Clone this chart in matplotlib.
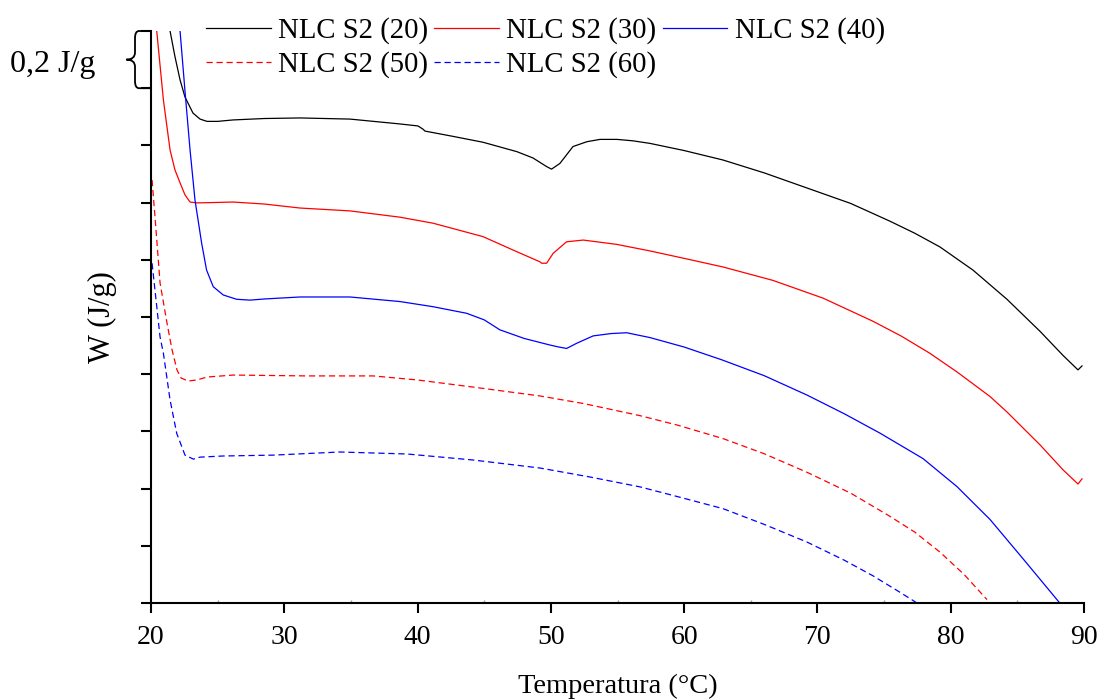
import matplotlib
matplotlib.use('Agg')
import matplotlib.pyplot as plt
from matplotlib.path import Path
from matplotlib.patches import PathPatch

plt.rcParams['font.family'] = ['Liberation Serif', 'DejaVu Serif']

# NLC S2 (20)
black_T = [21.2, 21.43, 21.8, 22.18, 22.55, 23.15, 23.68, 24.2, 25.0, 26.15, 28.5, 31.18, 34.93,
           38.68, 40.03, 40.4, 40.56, 42.5, 44.91, 47.46, 48.66, 49.68, 50.05, 50.68, 51.66, 52.71,
           53.69, 54.96, 56.16, 57.44, 60.0, 62.91, 66.0, 69.22, 72.5, 75.44, 77.3, 79.19, 81.67,
           84.22, 86.7, 88.42, 89.55, 89.85]
black_W = [2.08, 2.0, 1.91, 1.829, 1.769, 1.713, 1.692, 1.684, 1.684, 1.689, 1.694, 1.696, 1.692,
           1.675, 1.668, 1.657, 1.650, 1.633, 1.611, 1.578, 1.556, 1.526, 1.517, 1.537, 1.596, 1.613,
           1.621, 1.621, 1.616, 1.607, 1.582, 1.549, 1.504, 1.451, 1.397, 1.335, 1.293, 1.245, 1.164,
           1.062, 0.950, 0.866, 0.815, 0.829]

# NLC S2 (30)
red_T = [20.35, 20.43, 20.93, 21.43, 21.8, 22.18, 22.55, 22.93, 23.45, 24.5, 26.15, 28.5, 31.18,
         34.93, 38.68, 41.16, 44.91, 47.46, 49.18, 49.31, 49.68, 50.18, 51.18, 52.43, 54.93, 57.44,
         60.0, 62.91, 66.66, 70.42, 74.17, 76.3, 78.44, 80.47, 82.95, 84.22, 86.7, 88.42, 89.55, 89.85]
red_W = [2.1, 2.0, 1.759, 1.584, 1.514, 1.469, 1.427, 1.402, 1.399, 1.400, 1.402, 1.395, 1.381,
         1.371, 1.349, 1.328, 1.281, 1.228, 1.193, 1.188, 1.188, 1.223, 1.263, 1.269, 1.254, 1.231,
         1.205, 1.175, 1.128, 1.066, 0.985, 0.933, 0.873, 0.808, 0.722, 0.668, 0.553, 0.466, 0.416, 0.434]

# NLC S2 (40)
blue_T = [22.0, 22.18, 22.55, 22.93, 23.3, 23.8, 24.17, 24.67, 25.42, 26.42, 27.43, 28.5,
          31.18, 34.93, 38.68, 41.16, 43.68, 45.0, 46.18, 48.0, 49.93, 50.6, 51.18, 51.93, 53.18,
          54.5, 55.68, 57.44, 60.0, 62.84, 66.0, 69.22, 72.0, 74.69, 77.92, 80.47, 82.95, 85.42,
          88.27, 88.7]
blue_W = [2.07, 2.0, 1.79, 1.584, 1.409, 1.258, 1.164, 1.106, 1.077, 1.062, 1.059, 1.063,
          1.070, 1.070, 1.054, 1.036, 1.013, 0.99, 0.955, 0.925, 0.902, 0.895, 0.890, 0.908, 0.934,
          0.942, 0.945, 0.928, 0.895, 0.850, 0.795, 0.727, 0.662, 0.594, 0.505, 0.407, 0.292, 0.155,
          -0.005, -0.03]

# NLC S2 (50)
rd_T = [20.08, 20.3, 20.68, 21.2, 21.58, 21.95, 22.25, 22.78, 23.45, 24.2, 26.15, 31.7, 36.66,
        39.96, 44.16, 49.18, 52.5, 56.69, 59.5, 62.91, 66.0, 69.22, 72.5, 75.44, 77.3, 79.19, 81.0, 82.72]
rd_W = [1.479, 1.35, 1.119, 0.979, 0.885, 0.815, 0.787, 0.776, 0.780, 0.790, 0.797, 0.794, 0.794,
        0.780, 0.755, 0.724, 0.697, 0.655, 0.622, 0.575, 0.522, 0.457, 0.384, 0.303, 0.248, 0.178,
        0.100, 0.012]

# NLC S2 (60)
bd_T = [20.08, 20.68, 20.93, 21.43, 21.93, 22.55, 23.18, 23.68, 25.4, 29.15, 34.18, 39.21, 44.16,
        49.18, 53.0, 56.69, 59.5, 62.91, 66.0, 69.22, 72.0, 74.17, 76.0, 77.47]
bd_W = [1.188, 0.930, 0.873, 0.710, 0.593, 0.517, 0.503, 0.510, 0.514, 0.517, 0.528, 0.521, 0.500,
        0.472, 0.44, 0.406, 0.372, 0.330, 0.275, 0.213, 0.150, 0.095, 0.043, 0.0]

x_ticks = [20, 30, 40, 50, 60, 70, 80, 90]

fig = plt.figure(figsize=(11.02, 7.0), dpi=100)
ax = fig.add_axes([151 / 1102, 1 - 603 / 700, 933 / 1102, 572 / 700])

lw = 0.9
dash = (0, (5, 3))
l20, = ax.plot(black_T, black_W, color='black', lw=lw, label='NLC S2 (20)')
l30, = ax.plot(red_T, red_W, color='red', lw=lw, label='NLC S2 (30)')
l40, = ax.plot(blue_T, blue_W, color='blue', lw=lw, label='NLC S2 (40)')
l50, = ax.plot(rd_T, rd_W, color='red', lw=lw, ls=dash, label='NLC S2 (50)')
l60, = ax.plot(bd_T, bd_W, color='blue', lw=lw, ls=dash, label='NLC S2 (60)')

ax.set_xlim(20, 90)
ax.set_ylim(0, 2.0)
ax.set_xticks(x_ticks)
ax.set_xticks([25, 35, 45, 55, 65, 75, 85], minor=True)
ax.set_yticks([i * 0.2 for i in range(11)])
ax.set_yticklabels([])
ax.tick_params(axis='both', which='major', direction='out', length=7, width=1.5, labelsize=20, pad=9)
ax.tick_params(axis='x', which='minor', direction='in', length=2, width=1, color='0.6')
ax.spines['top'].set_visible(False)
ax.spines['right'].set_visible(False)
ax.spines['left'].set_linewidth(1.5)
ax.spines['bottom'].set_linewidth(1.5)

ax.set_xlabel('Temperatura (°C)', fontsize=20.5)
ax.xaxis.set_label_coords(0.5, -0.124)
ax.set_ylabel('W (J/g)', fontsize=22)
ax.yaxis.set_label_coords(-0.036, 0.5)

# scale brace: 0,2 J/g
verts = [(20.0, 2.0), (19.1, 2.0), (18.8, 2.0), (18.8, 1.975), (18.8, 1.925),
         (18.8, 1.9), (18.15, 1.9), (18.8, 1.9), (18.8, 1.875), (18.8, 1.825),
         (18.8, 1.8), (19.1, 1.8), (20.0, 1.8)]
codes = [Path.MOVETO, Path.LINETO, Path.CURVE3, Path.CURVE3, Path.LINETO,
         Path.CURVE3, Path.CURVE3, Path.CURVE3, Path.CURVE3, Path.LINETO,
         Path.CURVE3, Path.CURVE3, Path.LINETO]
ax.add_patch(PathPatch(Path(verts, codes), fill=False, lw=1.3, color='black', clip_on=False))
ax.text(15.85, 1.884, '0,2 J/g', fontsize=23, ha='right', va='center', clip_on=False)

order = [l20, l50, l30, l60, l40]
fig.legend(order, [l.get_label() for l in order],
           ncol=3, loc='upper left', bbox_to_anchor=(206 / 1102, 0.975),
           frameon=False, fontsize=20.7, borderpad=0, borderaxespad=0,
           handlelength=2.25, handletextpad=0.25, columnspacing=0.22, labelspacing=0.24)

fig.savefig('out.png', dpi=100)
